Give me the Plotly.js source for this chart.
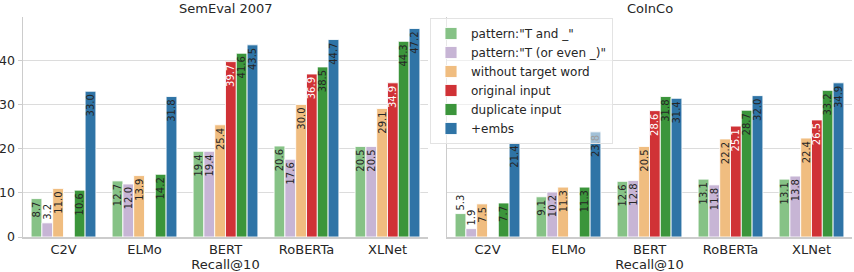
<!DOCTYPE html>
<html>
<head>
<meta charset="utf-8">
<script src="https://cdn.plot.ly/plotly-3.0.1.min.js"></script>
<style>html,body{margin:0;padding:0;background:#fff}#chart{width:854px;height:272px}</style>
</head>
<body>
<div id="chart"></div>
<script>
// ---- data ----
const models = ["C2V", "ELMo", "BERT", "RoBERTa", "XLNet"];
const seriesNames = ["pattern:\"T and _\"", "pattern:\"T (or even _)\"", "without target word", "original input", "duplicate input", "+embs"];

const semPatternAnd   = [8.7, 12.7, 19.4, 20.6, 20.5];
const semPatternOr    = [3.2, 12.0, 19.4, 17.6, 20.5];
const semNoTarget     = [11.0, 13.9, 25.4, 30.0, 29.1];
const semOriginal     = [null, null, 39.7, 36.9, 34.9];
const semDuplicate    = [10.6, 14.2, 41.6, 38.5, 44.3];
const semEmbs         = [33.0, 31.8, 43.5, 44.7, 47.2];

const cicPatternAnd   = [5.3, 9.1, 12.6, 13.1, 13.1];
const cicPatternOr    = [1.9, 10.2, 12.8, 11.8, 13.8];
const cicNoTarget     = [7.5, 11.3, 20.5, 22.2, 22.4];
const cicOriginal     = [null, null, 28.6, 25.1, 26.5];
const cicDuplicate    = [7.7, 11.3, 31.8, 28.7, 33.2];
const cicEmbs         = [21.4, 23.8, 31.4, 32.0, 34.9];

const yTicks = [0, 10, 20, 30, 40];

// ---- style ----
const colors = ["#86c286", "#c7b5d5", "#f0bd80", "#d03236", "#3b953b", "#2f74a6"];
const textColors = ["#262626", "#262626", "#262626", "#ffffff", "#262626", "#262626"];

const semSeries = [semPatternAnd, semPatternOr, semNoTarget, semOriginal, semDuplicate, semEmbs];
const cicSeries = [cicPatternAnd, cicPatternOr, cicNoTarget, cicOriginal, cicDuplicate, cicEmbs];

function makeTraces(series, xa, ya, showLegend) {
  return series.map((vals, i) => {
    const pos = vals.map(v => (v !== null && v < 6) ? "outside" : "inside");
    const tcol = vals.map(v => (v !== null && v < 6) ? "#262626" : textColors[i]);
    return {
      type: "bar",
      x: models,
      y: vals,
      name: seriesNames[i],
      legendgroup: "g" + i,
      showlegend: showLegend,
      xaxis: xa, yaxis: ya,
      marker: {color: colors[i], line: {color: "rgba(255,255,255,0.85)", width: 1}},
      text: vals.map(v => v === null ? "" : v.toFixed(1)),
      textposition: pos,
      insidetextanchor: "end",
      textangle: -90,
      textfont: {family: "DejaVu Sans", size: 10, color: tcol},
      cliponaxis: false,
      hoverinfo: "skip"
    };
  });
}

const traces = makeTraces(semSeries, "x", "y", false).concat(makeTraces(cicSeries, "x2", "y2", true));

const axisFont = {family: "DejaVu Sans", size: 13, color: "#262626"};
const gridCol = "#dcdcdc";
const spineCol = "#cccccc";
const plotTop = 17, plotBottom = 237, plotH = plotBottom - plotTop;

const layout = {
  width: 854, height: 272,
  margin: {l: 0, r: 0, t: plotTop, b: 272 - plotBottom, autoexpand: false},
  paper_bgcolor: "#ffffff",
  plot_bgcolor: "#ffffff",
  font: {family: "DejaVu Sans", color: "#262626"},
  barmode: "group",
  bargap: 0.2,
  bargroupgap: 0,
  uniformtext: {mode: "show", minsize: 10},
  xaxis: {
    domain: [23/854, 428/854], anchor: "y", automargin: false,
    showline: true, linecolor: spineCol, linewidth: 1.5,
    showgrid: false, ticks: "", tickangle: 0, tickfont: axisFont,
    title: {text: "Recall@10", font: axisFont, standoff: 0}
  },
  xaxis2: {
    domain: [447/854, 852/854], anchor: "y2", automargin: false,
    showline: true, linecolor: spineCol, linewidth: 1.5,
    showgrid: false, ticks: "", tickangle: 0, tickfont: axisFont,
    title: {text: "Recall@10", font: axisFont, standoff: 0}
  },
  yaxis: {
    range: [0, 49.8], tickvals: yTicks, ticktext: yTicks.map(String), automargin: false,
    showline: true, linecolor: spineCol, linewidth: 1.5,
    gridcolor: gridCol, gridwidth: 1, zeroline: false,
    ticks: "outside", ticklen: 4, tickcolor: spineCol,
    tickfont: {family: "DejaVu Sans", size: 12.5, color: "#262626"}
  },
  yaxis2: {
    range: [0, 49.8], tickvals: yTicks, showticklabels: false, automargin: false,
    anchor: "x2",
    showline: true, linecolor: spineCol, linewidth: 1.5,
    gridcolor: gridCol, gridwidth: 1, zeroline: false, ticks: ""
  },
  legend: {
    x: 430/854, xanchor: "left", y: (plotBottom - 18) / plotH, yanchor: "top",
    bgcolor: "rgba(255,255,255,0.55)", bordercolor: "#e3e3e3", borderwidth: 1,
    font: {family: "DejaVu Sans", size: 12, color: "#262626"},
    tracegroupgap: 0, traceorder: "normal"
  },
  annotations: [
    {text: "SemEval 2007", xref: "x domain", yref: "paper", x: 0.5, y: (plotBottom - 9) / plotH,
     xanchor: "center", yanchor: "middle", showarrow: false, font: axisFont},
    {text: "CoInCo", xref: "x2 domain", yref: "paper", x: 0.5, y: (plotBottom - 9) / plotH,
     xanchor: "center", yanchor: "middle", showarrow: false, font: axisFont}
  ]
};

Plotly.newPlot("chart", traces, layout, {staticPlot: true, displayModeBar: false});
</script>
</body>
</html>
